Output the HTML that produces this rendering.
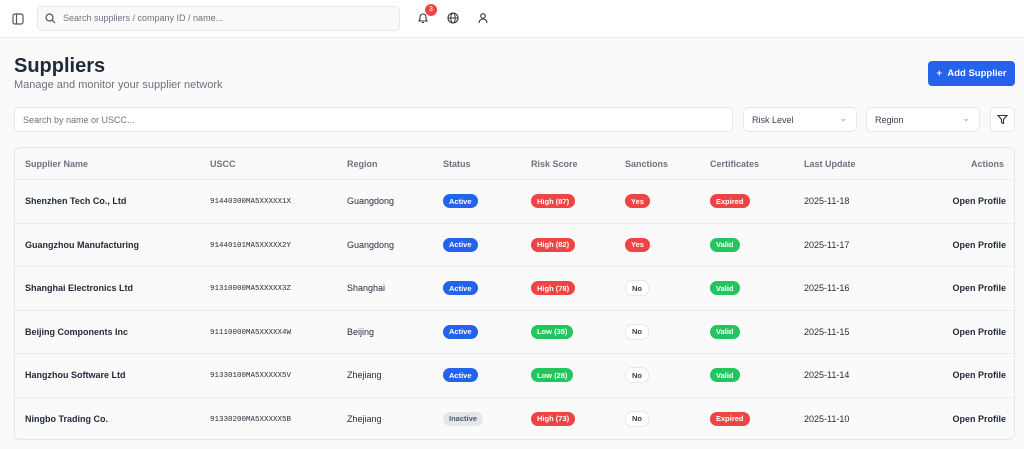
<!DOCTYPE html>
<html><head><meta charset="utf-8"><style>
*{box-sizing:border-box;margin:0;padding:0}
body{width:1024px;height:449px;overflow:hidden;background:#fafafa;font-family:"Liberation Sans",sans-serif;color:#1f2937;position:relative}
.abs{position:absolute}
.hdr{left:0;top:0;width:1024px;height:38px;background:#fff;border-bottom:1px solid #e5e7eb}
.inp{border:1px solid #e5e7eb;border-radius:5px;background:#fff;font-size:9px;color:#6b7280}
.pill{display:inline-block;font-size:7.5px;font-weight:bold;color:#fff;border-radius:7px;padding:2.5px 6px;line-height:9px}
.b{background:#2563eb}.r{background:#ef4444}.g{background:#22c55e}
.no{background:#fff;color:#374151;border:1px solid #e5e7eb}
.in{background:#e5e7eb;color:#4b5563}
.card{left:14px;top:147px;width:1001px;height:293px;border:1px solid #e5e7eb;border-radius:6px;background:#fafafa;overflow:hidden}
.row{position:absolute;left:0;width:1001px;height:43.5px;border-top:1px solid #ebebeb;font-size:9px}
.row>*{position:absolute;top:50%;transform:translateY(-50%)}
.row>.m{font-family:'Liberation Mono',monospace;font-size:7.5px;margin-top:1px}
.th{position:absolute;top:11px;font-size:9px;color:#6b7280;font-weight:bold}
</style></head><body>
<div class="abs hdr"></div>
<svg class="abs" style="left:12px;top:13px" width="12" height="12" viewBox="0 0 12 12"><rect x="1" y="1" width="10" height="10" rx="2" fill="none" stroke="#555" stroke-width="1.2"/><line x1="4.5" y1="1" x2="4.5" y2="11" stroke="#555" stroke-width="1.2"/></svg>
<div class="abs inp" style="left:37px;top:6px;width:363px;height:25px;background:#fafafa;padding:6px 0 0 25px">Search suppliers / company ID / name...</div>
<svg class="abs" style="left:45px;top:13px" width="11" height="11"><circle cx="4.5" cy="4.5" r="3.5" fill="none" stroke="#555" stroke-width="1.2"/><line x1="7" y1="7" x2="10" y2="10" stroke="#555" stroke-width="1.2"/></svg>
<svg class="abs" style="left:417px;top:12px" width="12" height="13"><path d="M2 9 L3 7 V5 A3 3 0 0 1 9 5 V7 L10 9 Z M5 10.5 H7" fill="none" stroke="#333" stroke-width="1.1"/></svg>
<div class="abs" style="left:425px;top:4px;width:12px;height:12px;border-radius:6px;background:#ef4444;color:#fff;font-size:7px;text-align:center;line-height:12px">3</div>
<svg class="abs" style="left:447px;top:12px" width="12" height="12"><circle cx="6" cy="6" r="5" fill="none" stroke="#333" stroke-width="1.1"/><ellipse cx="6" cy="6" rx="2.2" ry="5" fill="none" stroke="#333"/><line x1="1" y1="6" x2="11" y2="6" stroke="#333"/></svg>
<svg class="abs" style="left:477px;top:12px" width="12" height="12"><circle cx="6" cy="4" r="2.3" fill="none" stroke="#333" stroke-width="1.1"/><path d="M2 11 A4 4 0 0 1 10 11" fill="none" stroke="#333" stroke-width="1.1"/></svg>
<div class="abs" style="left:14px;top:55px;font-size:20px;font-weight:bold;color:#1f2937">Suppliers</div>
<div class="abs" style="left:14px;top:79px;font-size:11px;color:#6b7280">Manage and monitor your supplier network</div>
<div class="abs" style="left:928px;top:61px;width:87px;height:25px;background:#2563eb;border-radius:4px;color:#fff;font-size:9.5px;font-weight:bold;line-height:25px;text-align:center">+&nbsp;&nbsp;Add Supplier</div>
<div class="abs inp" style="left:14px;top:107px;width:719px;height:25px;padding:7px 0 0 8px">Search by name or USCC...</div>
<div class="abs inp" style="left:743px;top:107px;width:114px;height:25px;padding:7px 0 0 8px;color:#374151">Risk Level<span style="position:absolute;right:9px;top:5px;color:#999">⌄</span></div>
<div class="abs inp" style="left:866px;top:107px;width:114px;height:25px;padding:7px 0 0 8px;color:#374151">Region<span style="position:absolute;right:9px;top:5px;color:#999">⌄</span></div>
<div class="abs inp" style="left:990px;top:107px;width:25px;height:25px"></div>
<svg class="abs" style="left:997px;top:114px" width="11" height="11"><path d="M1 1.5 H10 L6.5 5.5 V9.5 L4.5 8.5 V5.5 Z" fill="none" stroke="#333" stroke-width="1.1"/></svg>
<div class="abs card">
<div class="th" style="left:10px">Supplier Name</div><div class="th" style="left:195px">USCC</div><div class="th" style="left:332px">Region</div><div class="th" style="left:428px">Status</div><div class="th" style="left:516px">Risk Score</div><div class="th" style="left:610px">Sanctions</div><div class="th" style="left:695px">Certificates</div><div class="th" style="left:789px">Last Update</div><div class="th" style="right:10px">Actions</div>

<div class="row" style="top:31px"><b style="left:10px">Shenzhen Tech Co., Ltd</b><span class="m" style="left:195px">91440300MA5XXXXX1X</span><span style="left:332px">Guangdong</span><span class="pill b" style="left:428px">Active</span><span class="pill r" style="left:516px">High (87)</span><span class="pill r" style="left:610px">Yes</span><span class="pill r" style="left:695px">Expired</span><span style="left:789px">2025-11-18</span><b style="right:10px">Open Profile</b></div>
<div class="row" style="top:74.5px"><b style="left:10px">Guangzhou Manufacturing</b><span class="m" style="left:195px">91440101MA5XXXXX2Y</span><span style="left:332px">Guangdong</span><span class="pill b" style="left:428px">Active</span><span class="pill r" style="left:516px">High (82)</span><span class="pill r" style="left:610px">Yes</span><span class="pill g" style="left:695px">Valid</span><span style="left:789px">2025-11-17</span><b style="right:10px">Open Profile</b></div>
<div class="row" style="top:118px"><b style="left:10px">Shanghai Electronics Ltd</b><span class="m" style="left:195px">91310000MA5XXXXX3Z</span><span style="left:332px">Shanghai</span><span class="pill b" style="left:428px">Active</span><span class="pill r" style="left:516px">High (78)</span><span class="pill no" style="left:610px">No</span><span class="pill g" style="left:695px">Valid</span><span style="left:789px">2025-11-16</span><b style="right:10px">Open Profile</b></div>
<div class="row" style="top:161.5px"><b style="left:10px">Beijing Components Inc</b><span class="m" style="left:195px">91110000MA5XXXXX4W</span><span style="left:332px">Beijing</span><span class="pill b" style="left:428px">Active</span><span class="pill g" style="left:516px">Low (35)</span><span class="pill no" style="left:610px">No</span><span class="pill g" style="left:695px">Valid</span><span style="left:789px">2025-11-15</span><b style="right:10px">Open Profile</b></div>
<div class="row" style="top:205px"><b style="left:10px">Hangzhou Software Ltd</b><span class="m" style="left:195px">91330100MA5XXXXX5V</span><span style="left:332px">Zhejiang</span><span class="pill b" style="left:428px">Active</span><span class="pill g" style="left:516px">Low (28)</span><span class="pill no" style="left:610px">No</span><span class="pill g" style="left:695px">Valid</span><span style="left:789px">2025-11-14</span><b style="right:10px">Open Profile</b></div>
<div class="row" style="top:248.5px"><b style="left:10px">Ningbo Trading Co.</b><span class="m" style="left:195px">91330200MA5XXXXX5B</span><span style="left:332px">Zhejiang</span><span class="pill in" style="left:428px">Inactive</span><span class="pill r" style="left:516px">High (73)</span><span class="pill no" style="left:610px">No</span><span class="pill r" style="left:695px">Expired</span><span style="left:789px">2025-11-10</span><b style="right:10px">Open Profile</b></div>
</div>
</body></html>
